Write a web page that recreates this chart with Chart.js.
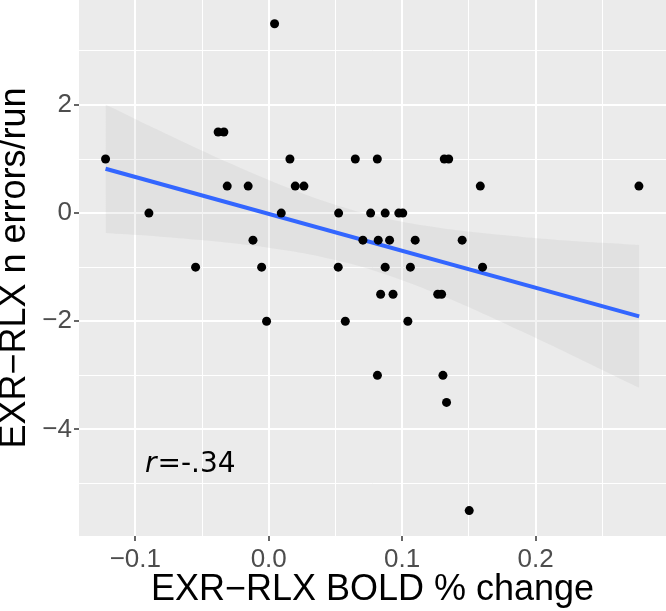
<!DOCTYPE html>
<html>
<head>
<meta charset="utf-8">
<script src="https://cdn.jsdelivr.net/npm/chart.js@4"></script>
<style>
  body { margin: 0; background: #fff; }
  #wrap { width: 666px; height: 611px; }
</style>
</head>
<body>
<div id="wrap"><canvas id="chart" width="666" height="611"></canvas></div>
<script>
// BOLD % change (x) vs n errors/run (y), one point per subject
const boldChange = [
  0.0044, -0.0379, -0.0336, -0.1223, 0.0159, 0.0649, 0.0814, 0.1316, 0.1349,
  -0.0311, -0.0154, 0.0199, 0.0264, 0.1586, 0.2775,
  -0.0898, 0.0094, 0.0524, 0.0764, 0.0873, 0.0975, 0.1005,
  -0.0118, 0.0706, 0.0821, 0.0906, 0.1098, 0.1450,
  -0.0548, -0.0053, 0.0521, 0.0873, 0.1062, 0.1603,
  0.0839, 0.0932, 0.1267, 0.1296,
  -0.0016, 0.0574, 0.1043,
  0.0815, 0.1306, 0.1333, 0.1503
];
const errorsPerRun = [
  3.5, 1.5, 1.5, 1, 1, 1, 1, 1, 1,
  0.5, 0.5, 0.5, 0.5, 0.5, 0.5,
  0, 0, 0, 0, 0, 0, 0,
  -0.5, -0.5, -0.5, -0.5, -0.5, -0.5,
  -1, -1, -1, -1, -1, -1,
  -1.5, -1.5, -1.5, -1.5,
  -2, -2, -2,
  -3, -3, -3.5, -5.5
];

// fitted line (ends) and confidence band
const fitX = [-0.1223, 0.2777];
const fitY = [0.82, -1.91];
const bandX = [-0.1223, -0.09, -0.06, -0.03, 0.0, 0.03, 0.065, 0.10, 0.13, 0.16, 0.19, 0.22, 0.25, 0.2777];
const bandUpper = [2.01, 1.62, 1.27, 0.93, 0.61, 0.32, 0.04, -0.16, -0.28, -0.37, -0.44, -0.50, -0.55, -0.59];
const bandLower = [-0.37, -0.42, -0.48, -0.55, -0.64, -0.76, -0.96, -1.24, -1.53, -1.85, -2.19, -2.54, -2.90, -3.23];

// axes
const xMajor = [-0.1, 0, 0.1, 0.2];
const xLabels = ['\u22120.1', '0.0', '0.1', '0.2'];
const xMinor = [-0.05, 0.05, 0.15, 0.25];
const yMajor = [-4, -2, 0, 2];
const yLabels = ['\u22124', '\u22122', '0', '2'];
const yMinor = [-5, -3, -1, 1, 3];

const annotation = { x: -0.0928, y: -4.78, italic: 'r', rest: '=-.34' };

const toXY = (xs, ys) => xs.map((x, i) => ({ x: x, y: ys[i] }));

function isMajor(list, v) {
  return list.some(m => Math.abs(m - v) < 1e-9);
}

function noPadding(s) {
  s.paddingTop = 0;
  s.paddingBottom = 0;
  s.paddingLeft = 0;
  s.paddingRight = 0;
}

const panelBg = {
  id: 'panelBg',
  beforeDraw(chart) {
    const { ctx, chartArea: a } = chart;
    ctx.save();
    ctx.fillStyle = '#EBEBEB';
    ctx.fillRect(a.left, a.top, a.right - a.left, a.bottom - a.top);
    ctx.restore();
  }
};

const rLabel = {
  id: 'rLabel',
  afterDatasetsDraw(chart) {
    const { ctx, scales } = chart;
    const px = scales.x.getPixelForValue(annotation.x);
    const py = scales.y.getPixelForValue(annotation.y);
    ctx.save();
    ctx.fillStyle = '#000';
    ctx.textBaseline = 'alphabetic';
    ctx.font = 'italic 28px "DejaVu Sans"';
    ctx.fillText(annotation.italic, px, py);
    const w = ctx.measureText(annotation.italic).width;
    ctx.font = '28px "DejaVu Sans"';
    ctx.fillText(annotation.rest, px + w + 1, py);
    ctx.restore();
  }
};

new Chart(document.getElementById('chart'), {
  type: 'scatter',
  data: {
    datasets: [
      {
        data: toXY(boldChange, errorsPerRun),
        backgroundColor: '#000',
        borderWidth: 0,
        pointRadius: 4.5,
        order: 0
      },
      {
        data: toXY(fitX, fitY),
        showLine: true,
        borderColor: '#3366FF',
        borderWidth: 4,
        pointRadius: 0,
        order: 1
      },
      {
        data: toXY(bandX, bandUpper),
        showLine: true,
        borderWidth: 0,
        borderColor: 'rgba(0,0,0,0)',
        backgroundColor: 'rgba(153,153,153,0.12)',
        pointRadius: 0,
        tension: 0.3,
        fill: '+1',
        order: 2
      },
      {
        data: toXY(bandX, bandLower),
        showLine: true,
        borderWidth: 0,
        borderColor: 'rgba(0,0,0,0)',
        pointRadius: 0,
        tension: 0.3,
        fill: false,
        order: 3
      }
    ]
  },
  options: {
    responsive: false,
    animation: false,
    layout: { padding: 0, autoPadding: false },
    plugins: { legend: { display: false }, tooltip: { enabled: false } },
    scales: {
      x: {
        type: 'linear',
        min: -0.1422,
        max: 0.2978,
        afterBuildTicks: s => {
          s.ticks = xMajor.concat(xMinor).sort((a, b) => a - b).map(v => ({ value: v }));
        },
        afterFit: s => { s.height = 75; noPadding(s); },
        border: { display: false },
        grid: {
          color: '#FFFFFF',
          lineWidth: c => isMajor(xMajor, c.tick.value) ? 2 : 1,
          tickColor: c => isMajor(xMajor, c.tick.value) ? '#333333' : 'rgba(0,0,0,0)',
          tickWidth: 1.5,
          tickLength: 5
        },
        ticks: {
          autoSkip: false,
          maxRotation: 0,
          padding: 3,
          color: '#4D4D4D',
          font: { family: '"Liberation Sans", Arial, sans-serif', size: 26 },
          callback: v => {
            const i = xMajor.findIndex(m => Math.abs(m - v) < 1e-9);
            return i >= 0 ? xLabels[i] : '';
          }
        },
        title: {
          display: true,
          text: 'EXR\u2212RLX BOLD % change',
          color: '#000',
          font: { family: '"Liberation Sans", Arial, sans-serif', size: 36, lineHeight: 1 },
          padding: { top: 0, bottom: 3 }
        }
      },
      y: {
        type: 'linear',
        min: -5.97,
        max: 3.94,
        afterBuildTicks: s => {
          s.ticks = yMajor.concat(yMinor).sort((a, b) => a - b).map(v => ({ value: v }));
        },
        afterFit: s => { s.width = 79; noPadding(s); },
        border: { display: false },
        grid: {
          color: '#FFFFFF',
          lineWidth: c => isMajor(yMajor, c.tick.value) ? 2 : 1,
          tickColor: c => isMajor(yMajor, c.tick.value) ? '#333333' : 'rgba(0,0,0,0)',
          tickWidth: 1.5,
          tickLength: 5
        },
        ticks: {
          autoSkip: false,
          padding: 2,
          color: '#4D4D4D',
          font: { family: '"Liberation Sans", Arial, sans-serif', size: 26 },
          callback: v => {
            const i = yMajor.findIndex(m => Math.abs(m - v) < 1e-9);
            return i >= 0 ? yLabels[i] : '';
          }
        },
        title: {
          display: true,
          text: 'EXR\u2212RLX n errors/run',
          color: '#000',
          font: { family: '"Liberation Sans", Arial, sans-serif', size: 36, lineHeight: 1 },
          padding: { top: -3, bottom: 0 }
        }
      }
    }
  },
  plugins: [panelBg, rLabel]
});
</script>
</body>
</html>
